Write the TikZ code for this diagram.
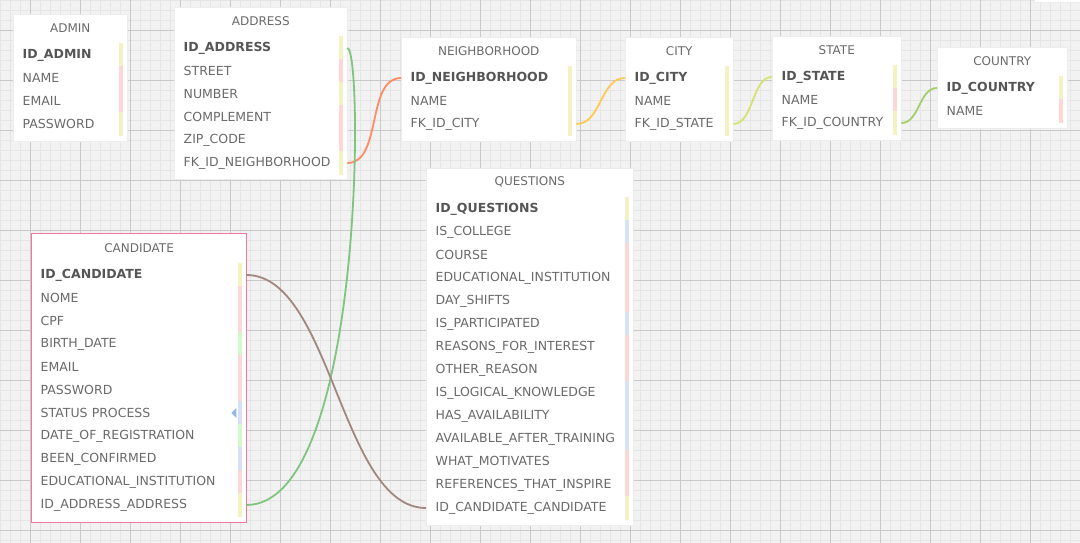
\documentclass[tikz,border=0pt]{standalone}
\usepackage{fontspec}
\setmainfont{DejaVu Sans}
\usetikzlibrary{shadows}

\definecolor{bgGrey}{HTML}{F2F2F2}
\definecolor{gridMinor}{HTML}{E5E5E5}
\definecolor{gridMajor}{HTML}{C9C9C9}
\definecolor{txtGrey}{HTML}{6A6A6A}
\definecolor{keyGrey}{HTML}{555555}
\definecolor{barY}{HTML}{F2F2C2}
\definecolor{barP}{HTML}{FDD6D6}
\definecolor{barG}{HTML}{D3F8CE}
\definecolor{barB}{HTML}{D6E1F8}
\definecolor{candPink}{HTML}{F2789F}
\definecolor{triBlue}{HTML}{90B8E0}
\definecolor{lnkOrange}{HTML}{FF8A65}
\definecolor{lnkAmber}{HTML}{FFCA52}
\definecolor{lnkLime}{HTML}{D6E270}
\definecolor{lnkLGreen}{HTML}{A2CF6A}
\definecolor{lnkGreen}{HTML}{7FC47F}
\definecolor{lnkBrown}{HTML}{A1887F}

\begin{document}
\begin{tikzpicture}[x=1pt, y=-1pt, inner sep=0pt, font=\fontsize{12}{14}\selectfont]
  \useasboundingbox (0,0) rectangle (1080,543);

  \tikzstyle{tableBox}=[anchor=north west, rectangle, fill=white, draw=black!7, line width=0.5pt, drop shadow={opacity=0.12, shadow xshift=0.8pt, shadow yshift=-0.8pt}];
  \tikzstyle{titleNode}=[text=txtGrey];
  \tikzstyle{rowNode}=[anchor=west, minimum height=23, inner xsep=9.5pt, align=left, text=txtGrey, font=\fontsize{12.5}{14}\selectfont];
  \tikzstyle{link}=[line width=1.8pt];

  % background grid
  \fill[bgGrey] (0,0) rectangle (1080,543);
  \foreach \gx in {0,10,...,1080} \draw[gridMinor, line width=0.6pt] (\gx,0) -- (\gx,543);
  \foreach \gy in {0,10,...,540} \draw[gridMinor, line width=0.6pt] (0,\gy) -- (1080,\gy);
  \foreach \gx in {30,80,...,1080} \draw[gridMajor, line width=0.7pt] (\gx,0) -- (\gx,543);
  \foreach \gy in {30,80,...,530} \draw[gridMajor, line width=0.7pt] (0,\gy) -- (1080,\gy);

  % box cut off at the top right
  \node[tableBox, minimum width=60, minimum height=30] (edgebox) at (1034,-28) {};

  % ADMIN
  \node[tableBox, minimum width=114, minimum height=127] (admin) at (13,14) {};
  \node[titleNode] (admin-title) at ([yshift=-14pt]admin.north) {ADMIN};
  \foreach \txt/\col [count=\i] in {ID\_ADMIN/barY, NAME/barP, EMAIL/barP, PASSWORD/barY} {
    \node[rowNode, text width=95pt] (admin-\i) at (13,32+23*\i) {\ifnum\i=1 \bfseries\color{keyGrey}\fi\txt};
    \fill[\col] ([xshift=-8pt]admin-\i.north east) rectangle ([xshift=-4pt]admin-\i.south east);
  }

  % ADDRESS
  \node[tableBox, minimum width=173, minimum height=172] (address) at (174,7) {};
  \node[titleNode] (address-title) at ([yshift=-14pt]address.north) {ADDRESS};
  \foreach \txt/\col [count=\i] in {ID\_ADDRESS/barY, STREET/barP, NUMBER/barY, COMPLEMENT/barP, ZIP\_CODE/barP, FK\_ID\_NEIGHBORHOOD/barY} {
    \node[rowNode, text width=154pt] (address-\i) at (174,25+23*\i) {\ifnum\i=1 \bfseries\color{keyGrey}\fi\txt};
    \fill[\col] ([xshift=-8pt]address-\i.north east) rectangle ([xshift=-4pt]address-\i.south east);
  }

  % NEIGHBORHOOD
  \node[tableBox, minimum width=175, minimum height=104] (neighborhood) at (401,37) {};
  \node[titleNode] (neighborhood-title) at ([yshift=-14pt]neighborhood.north) {NEIGHBORHOOD};
  \foreach \txt/\col [count=\i] in {ID\_NEIGHBORHOOD/barY, NAME/barY, FK\_ID\_CITY/barY} {
    \node[rowNode, text width=156pt] (neighborhood-\i) at (401,55+23*\i) {\ifnum\i=1 \bfseries\color{keyGrey}\fi\txt};
    \fill[\col] ([xshift=-8pt]neighborhood-\i.north east) rectangle ([xshift=-4pt]neighborhood-\i.south east);
  }

  % CITY
  \node[tableBox, minimum width=108, minimum height=104] (city) at (625,37) {};
  \node[titleNode] (city-title) at ([yshift=-14pt]city.north) {CITY};
  \foreach \txt/\col [count=\i] in {ID\_CITY/barY, NAME/barY, FK\_ID\_STATE/barY} {
    \node[rowNode, text width=89pt] (city-\i) at (625,55+23*\i) {\ifnum\i=1 \bfseries\color{keyGrey}\fi\txt};
    \fill[\col] ([xshift=-8pt]city-\i.north east) rectangle ([xshift=-4pt]city-\i.south east);
  }

  % STATE
  \node[tableBox, minimum width=129, minimum height=104] (state) at (772,36) {};
  \node[titleNode] (state-title) at ([yshift=-14pt]state.north) {STATE};
  \foreach \txt/\col [count=\i] in {ID\_STATE/barY, NAME/barP, FK\_ID\_COUNTRY/barY} {
    \node[rowNode, text width=110pt] (state-\i) at (772,54+23*\i) {\ifnum\i=1 \bfseries\color{keyGrey}\fi\txt};
    \fill[\col] ([xshift=-8pt]state-\i.north east) rectangle ([xshift=-4pt]state-\i.south east);
  }

  % COUNTRY
  \node[tableBox, minimum width=130, minimum height=81] (country) at (937,47) {};
  \node[titleNode] (country-title) at ([yshift=-14pt]country.north) {COUNTRY};
  \foreach \txt/\col [count=\i] in {ID\_COUNTRY/barY, NAME/barP} {
    \node[rowNode, text width=111pt] (country-\i) at (937,65+23*\i) {\ifnum\i=1 \bfseries\color{keyGrey}\fi\txt};
    \fill[\col] ([xshift=-8pt]country-\i.north east) rectangle ([xshift=-4pt]country-\i.south east);
  }

  % CANDIDATE
  \node[tableBox, draw=candPink, line width=1.2pt, minimum width=215, minimum height=289] (candidate) at (31,233) {};
  \node[titleNode] (candidate-title) at ([yshift=-15pt]candidate.north) {CANDIDATE};
  \foreach \txt/\col [count=\i] in {ID\_CANDIDATE/barY, NOME/barP, CPF/barP, BIRTH\_DATE/barG, EMAIL/barP, PASSWORD/barP, STATUS PROCESS/barB, DATE\_OF\_REGISTRATION/barG, BEEN\_CONFIRMED/barB, EDUCATIONAL\_INSTITUTION/barP, ID\_ADDRESS\_ADDRESS/barY} {
    \node[rowNode, text width=196pt] (candidate-\i) at (31,252+23*\i) {\ifnum\i=1 \bfseries\color{keyGrey}\fi\txt};
    \fill[\col] ([xshift=-8pt]candidate-\i.north east) rectangle ([xshift=-4pt]candidate-\i.south east);
  }
  \fill[triBlue] ([xshift=-10pt,yshift=5pt]candidate-7.east) -- ([xshift=-10pt,yshift=-5pt]candidate-7.east) -- ([xshift=-15pt]candidate-7.east) -- cycle;

  % QUESTIONS
  \node[tableBox, minimum width=207, minimum height=357] (questions) at (426,168) {};
  \node[titleNode] (questions-title) at ([yshift=-14pt]questions.north) {QUESTIONS};
  \foreach \txt/\col [count=\i] in {ID\_QUESTIONS/barY, IS\_COLLEGE/barB, COURSE/barP, EDUCATIONAL\_INSTITUTION/barP, DAY\_SHIFTS/barP, IS\_PARTICIPATED/barB, REASONS\_FOR\_INTEREST/barP, OTHER\_REASON/barP, IS\_LOGICAL\_KNOWLEDGE/barB, HAS\_AVAILABILITY/barB, AVAILABLE\_AFTER\_TRAINING/barB, WHAT\_MOTIVATES/barP, REFERENCES\_THAT\_INSPIRE/barP, ID\_CANDIDATE\_CANDIDATE/barY} {
    \node[rowNode, text width=188pt] (questions-\i) at (426,186+23*\i) {\ifnum\i=1 \bfseries\color{keyGrey}\fi\txt};
    \fill[\col] ([xshift=-8pt]questions-\i.north east) rectangle ([xshift=-4pt]questions-\i.south east);
  }

  % relations
  \draw[link, lnkOrange] (address-6.east) .. controls +(35,0) and +(-35,0) .. (neighborhood-1.west);
  \draw[link, lnkAmber] (neighborhood-3.east) .. controls +(25,0) and +(-25,0) .. (city-1.west);
  \draw[link, lnkLime] (city-3.east) .. controls +(20,0) and +(-20,0) .. (state-1.west);
  \draw[link, lnkLGreen] (state-3.east) .. controls +(18,0) and +(-18,0) .. (country-1.west);
  \draw[link, lnkGreen] (address-1.east) .. controls +(16,0) and +(118,0) .. (candidate-11.east);
  \draw[link, lnkBrown] (candidate-1.east) .. controls +(85,0) and +(-85,0) .. (questions-14.west);
\end{tikzpicture}
\end{document}
